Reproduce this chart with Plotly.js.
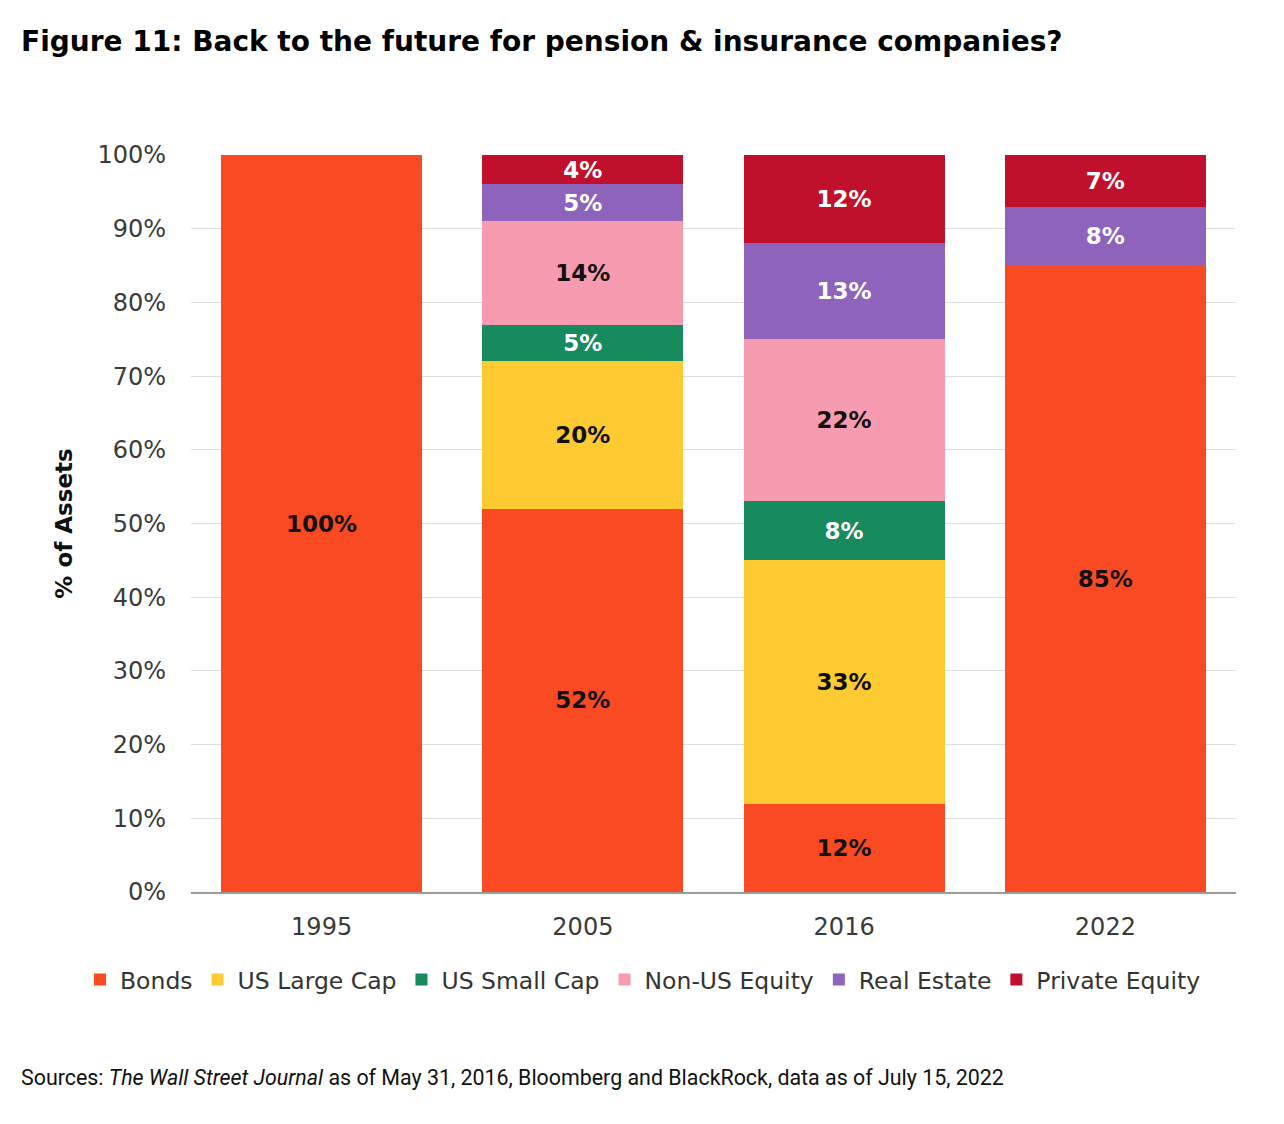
<!DOCTYPE html>
<html>
<head>
<meta charset="utf-8">
<script src="https://cdn.plot.ly/plotly-3.0.1.min.js"></script>
<style>
  html, body { margin: 0; padding: 0; background: #ffffff; }
  #chart { width: 1284px; height: 1124px; }
</style>
</head>
<body>
<div id="chart"></div>
<script>
const years = ['1995', '2005', '2016', '2022'];
const bonds        = [100, 52, 12, 85];
const usLargeCap   = [null, 20, 33, null];
const usSmallCap   = [null, 5, 8, null];
const nonUsEquity  = [null, 14, 22, null];
const realEstate   = [null, 5, 13, 8];
const privateEquity= [null, 4, 12, 7];
const yTickVals = [0, 10, 20, 30, 40, 50, 60, 70, 80, 90, 100];
const yTickText = ['0%', '10%', '20%', '30%', '40%', '50%', '60%', '70%', '80%', '90%', '100%'];

const seriesNames = ['Bonds', 'US Large Cap', 'US Small Cap', 'Non-US Equity', 'Real Estate', 'Private Equity'];
const seriesValues = [bonds, usLargeCap, usSmallCap, nonUsEquity, realEstate, privateEquity];
const seriesColors = ['#FA4A23', '#FDCB31', '#178A5E', '#F79CB0', '#8E63BB', '#C0102C'];
const labelColors  = ['#111111', '#111111', '#ffffff', '#111111', '#ffffff', '#ffffff'];

const labelFont = 'DejaVu Sans, sans-serif';
const axisFont = 'DejaVu Sans, sans-serif';

const traces = seriesNames.map((name, i) => ({
  type: 'bar',
  name: name,
  x: years,
  y: seriesValues[i],
  text: seriesValues[i].map(v => (v === null ? '' : v + '%')),
  texttemplate: '%{text}',
  textposition: 'inside',
  insidetextanchor: 'middle',
  constraintext: 'none',
  marker: { color: seriesColors[i], line: { width: 0 } },
  insidetextfont: { family: labelFont, size: 23, weight: 'bold', color: labelColors[i] },
  hoverinfo: 'none'
}));

const layout = {
  width: 1284,
  height: 1124,
  paper_bgcolor: '#ffffff',
  plot_bgcolor: '#ffffff',
  barmode: 'stack',
  bargap: 0.23,
  margin: { l: 191, r: 48, t: 155, b: 232 },
  uniformtext: { mode: 'show', minsize: 23 },
  showlegend: true,
  legend: {
    orientation: 'h',
    x: (80 - 191) / 1045, xanchor: 'left',
    y: -0.119, yanchor: 'middle',
    font: { family: axisFont, size: 23.5, color: '#333333' },
    itemwidth: 30,
    traceorder: 'normal',
    itemclick: false
  },
  xaxis: {
    type: 'category',
    tickfont: { family: axisFont, size: 24, color: '#3a3a3a' },
    showline: true,
    linecolor: '#9a9a9a',
    linewidth: 2,
    ticks: '',
    ticklabelstandoff: 12,
    showgrid: false
  },
  yaxis: {
    range: [0, 100],
    tickvals: yTickVals,
    ticktext: yTickText,
    tickfont: { family: axisFont, size: 24, color: '#3a3a3a' },
    showgrid: true,
    gridcolor: '#dedede',
    gridwidth: 1,
    zeroline: false,
    showline: false,
    ticks: '',
    ticklabelstandoff: 24,
    title: {
      text: '<b>% of Assets</b>',
      font: { family: 'DejaVu Sans, sans-serif', size: 23, color: '#111111' },
      standoff: 18
    }
  },
  annotations: [
    {
      text: '<b>Figure 11: Back to the future for pension &amp; insurance companies?</b>',
      xref: 'paper', yref: 'paper',
      x: (19 - 191) / 1045, y: 1 + (155 - 42) / 737,
      xanchor: 'left', yanchor: 'middle',
      showarrow: false,
      font: { family: 'DejaVu Sans, sans-serif', size: 28, color: '#000000' }
    },
    {
      text: 'Sources: <i>The Wall Street Journal</i> as of May 31, 2016, Bloomberg and BlackRock, data as of July 15, 2022',
      xref: 'paper', yref: 'paper',
      x: (19 - 191) / 1045, y: (892 - 1077) / 737,
      xanchor: 'left', yanchor: 'middle',
      showarrow: false,
      font: { family: 'Roboto, sans-serif', size: 21.4, color: '#111111' }
    }
  ]
};

Plotly.newPlot('chart', traces, layout, { staticPlot: true, displayModeBar: false });
</script>
</body>
</html>
